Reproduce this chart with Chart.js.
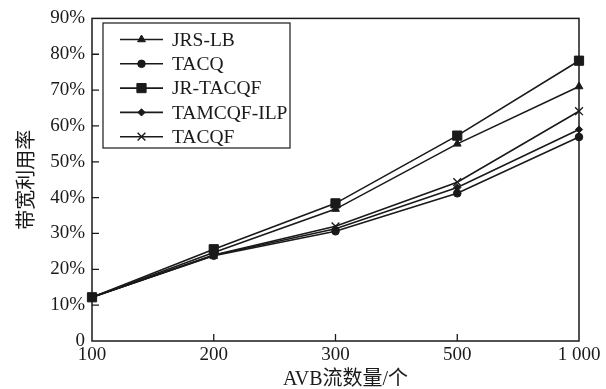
<!DOCTYPE html>
<html>
<head>
<meta charset="utf-8">
<script src="https://cdn.jsdelivr.net/npm/chart.js@4.4.1/dist/chart.umd.min.js"></script>
<style>
  html, body { margin: 0; padding: 0; background: #fff; }
  #wrap { width: 606px; height: 389px; }
</style>
</head>
<body>
<div id="wrap"><canvas id="chart" width="606" height="389"></canvas></div>
<script>
// categories and series (percent)
const flowCounts = ['100', '200', '300', '500', '1 000'];
const seriesNames = ['JRS-LB', 'TACQ', 'JR-TACQF', 'TAMCQF-ILP', 'TACQF'];
const jrsLb     = [12.2, 24.7, 36.8, 55.0, 71.0];
const tacq      = [12.2, 23.8, 30.6, 41.2, 56.9];
const jrTacqf   = [12.2, 25.6, 38.4, 57.3, 78.2];
const tamcqfIlp = [12.2, 23.9, 31.3, 42.8, 59.0];
const tacqf     = [12.2, 24.0, 32.0, 44.3, 64.1];
const yTicks    = [0, 10, 20, 30, 40, 50, 60, 70, 80, 90];

const ink = '#1a1a1a';
const serif = "'Liberation Serif', 'DejaVu Serif', serif";
const cjk = "'Liberation Serif', 'Noto Sans CJK SC', serif";

const styles = [
    { pointStyle: 'triangle', radius: 4.5 },
    { pointStyle: 'circle',   radius: 3.8 },
    { pointStyle: 'rect',     radius: 6.5 },
    { pointStyle: 'rectRot',  radius: 3.6 },
    { pointStyle: 'crossRot', radius: 5.5 }
];
const values = [jrsLb, tacq, jrTacqf, tamcqfIlp, tacqf];

const datasets = seriesNames.map((name, i) => ({
    label: name,
    data: values[i],
    borderColor: ink,
    backgroundColor: ink,
    borderWidth: 1.6,
    pointStyle: styles[i].pointStyle,
    pointRadius: styles[i].radius,
    pointBorderWidth: styles[i].pointStyle === 'crossRot' ? 1.4 : 1,
    pointBorderColor: ink,
    pointBackgroundColor: ink,
    tension: 0
}));

// frame, inward ticks, x title and legend box
const decor = {
    id: 'decor',
    afterDraw(chart) {
        const { ctx, chartArea: a, scales } = chart;
        ctx.save();
        ctx.strokeStyle = ink;
        ctx.lineWidth = 1.5;
        ctx.strokeRect(a.left, a.top, a.right - a.left, a.bottom - a.top);

        ctx.lineWidth = 1.3;
        ctx.beginPath();
        yTicks.forEach(v => {
            if (v === 0 || v === 90) return;
            const y = scales.y.getPixelForValue(v);
            ctx.moveTo(a.left, y);
            ctx.lineTo(a.left + 7, y);
        });
        flowCounts.forEach((c, i) => {
            if (i === 0 || i === flowCounts.length - 1) return;
            const x = scales.x.getPixelForValue(i);
            ctx.moveTo(x, a.bottom);
            ctx.lineTo(x, a.bottom - 7);
        });
        ctx.stroke();

        // x axis title, sits a little right of centre in the original
        ctx.fillStyle = ink;
        ctx.font = '20px ' + cjk;
        ctx.textAlign = 'center';
        ctx.textBaseline = 'middle';
        ctx.fillText('AVB流数量/个', (a.left + a.right) / 2 + 10, 380);

        // legend
        const box = { x: 103, y: 23, w: 187, h: 125 };
        ctx.lineWidth = 1.2;
        ctx.strokeRect(box.x, box.y, box.w, box.h);
        ctx.font = '19.5px ' + serif;
        ctx.textAlign = 'left';
        datasets.forEach((ds, i) => {
            const y = 39.5 + i * 24.3;
            ctx.beginPath();
            ctx.lineWidth = 1.6;
            ctx.moveTo(120, y);
            ctx.lineTo(163, y);
            ctx.stroke();
            ctx.lineWidth = ds.pointBorderWidth;
            Chart.helpers.drawPoint(ctx, {
                pointStyle: ds.pointStyle,
                radius: ds.pointRadius,
                borderWidth: ds.pointBorderWidth,
                rotation: 0
            }, 141.5, y);
            ctx.fillText(ds.label, 172, y + 1);
        });
        ctx.restore();
    }
};

new Chart(document.getElementById('chart'), {
    type: 'line',
    data: { labels: flowCounts, datasets: datasets },
    options: {
        responsive: false,
        animation: false,
        layout: { padding: { top: 16, right: 27, left: 0, bottom: 0 } },
        plugins: {
            legend: { display: false },
            tooltip: { enabled: false }
        },
        scales: {
            x: {
                offset: false,
                grid: { display: false, drawTicks: false },
                border: { display: false },
                ticks: { color: ink, font: { family: serif, size: 19 }, padding: 3, maxRotation: 0 },
                afterFit(scale) { scale.height = 48; }
            },
            y: {
                min: 0,
                max: 90,
                grid: { display: false, drawTicks: false },
                border: { display: false },
                afterBuildTicks(scale) { scale.ticks = yTicks.map(v => ({ value: v })); },
                ticks: {
                    color: ink,
                    font: { family: serif, size: 19 },
                    padding: 7,
                    callback: v => v === 0 ? '0' : v + '%'
                },
                title: {
                    display: true,
                    text: '带宽利用率',
                    color: ink,
                    font: { family: cjk, size: 20 },
                    padding: { top: 16, bottom: 0 }
                },
                afterFit(scale) { scale.width = 92; }
            }
        }
    },
    plugins: [decor]
});
</script>
</body>
</html>
